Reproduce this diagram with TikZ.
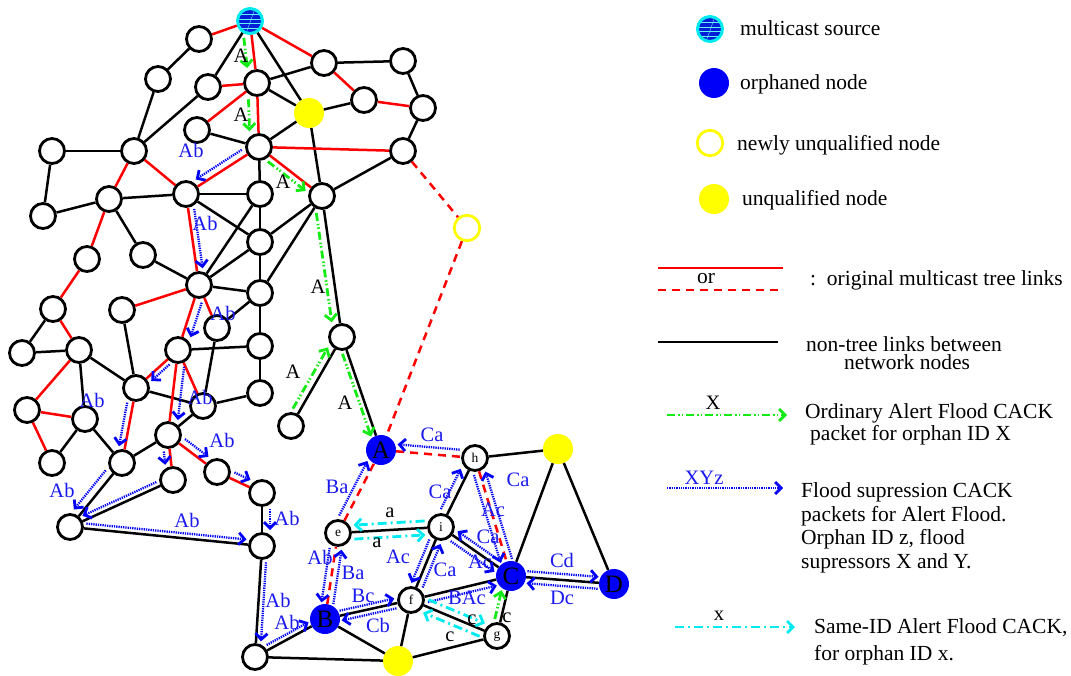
\documentclass[tikz,border=0pt]{standalone}
\usepackage{fontspec}
\setmainfont{Liberation Serif}
\usetikzlibrary{arrows.meta,calc}

\definecolor{tred}{RGB}{255,0,0}
\definecolor{tgreen}{RGB}{20,235,20}
\definecolor{tblue}{RGB}{0,0,250}
\definecolor{tlblue}{RGB}{25,25,240}
\definecolor{srcblue}{RGB}{0,30,215}
\definecolor{tcyan}{RGB}{0,235,240}
\definecolor{tyellow}{RGB}{255,255,0}

% offset packet arrow between two named nodes: style, from, to, side offset (pt)
\newcommand\cackline[4]{%
  \draw[#1] ($($(#2)!16pt!(#3)$)!#4pt!90:(#3)$) -- ($($(#3)!16pt!(#2)$)!#4pt!-90:(#2)$);}

\begin{document}
\begin{tikzpicture}[x=1pt,y=-1pt,
  nd/.style={circle, draw=black, line width=2.8pt, fill=white, minimum size=25pt, inner sep=0pt,
    font=\fontsize{13.5}{14}\selectfont},
  orph/.style={circle, fill=tblue, minimum size=30pt, inner sep=0pt, font=\fontsize{25}{25}\selectfont},
  unq/.style={circle, fill=tyellow, minimum size=30pt, inner sep=0pt},
  newunq/.style={circle, draw=tyellow, line width=2.8pt, fill=white, minimum size=25.5pt, inner sep=0pt},
  src/.style={circle, draw=tcyan, line width=3pt, fill=srcblue, minimum size=25pt, inner sep=0pt,
    path picture={
      \foreach \s in {-7,-2.5,2,6.5}{\draw[tcyan!60!white, line width=0.4pt]
        ([yshift=\s pt]path picture bounding box.west) -- ([yshift=\s pt]path picture bounding box.east);}
      \draw[tcyan!60!white, line width=0.4pt] ([xshift=-4pt]path picture bounding box.south) -- ([xshift=5pt]path picture bounding box.north);}},
  link/.style={draw=black, line width=2.5pt},
  tree/.style={draw=tred, line width=2.5pt},
  treed/.style={draw=tred, line width=2.5pt, dash pattern=on 8pt off 6pt},
  ordflood/.style={draw=tgreen, line width=2.8pt,
    dash pattern=on 8pt off 3pt on 1.5pt off 2pt on 1.5pt off 3pt,
    -{Straight Barb[length=6pt,width=12pt,line width=2.8pt]}},
  suppr/.style={draw=tblue, line width=2.3pt, dash pattern=on 1.3pt off 1pt,
    -{Straight Barb[length=6pt,width=12pt,line width=2.8pt]}},
  sameid/.style={draw=tcyan, line width=2.8pt, dash pattern=on 9pt off 4pt on 2pt off 4pt,
    -{Straight Barb[length=6pt,width=12pt,line width=2.8pt]}},
  blab/.style={text=tlblue, inner sep=0pt, font=\fontsize{20.5}{21}\selectfont},
  klab/.style={text=black, inner sep=0pt, font=\fontsize{20.5}{21}\selectfont},
  legtxt/.style={text=black, inner sep=0pt, anchor=west, font=\fontsize{21.5}{24}\selectfont}
]
\useasboundingbox (0,0) rectangle (1071,675);

% ---------- network nodes ----------
\node[src] (S) at (250,21) {};
\foreach \n/\x/\y in {n1/199/39, n2/158/79, n3/208/87, n4/257/83, n5/324/63, n6/403/61,
  n7/364/100, n8/423/108, n9/197/130, n10/259/147, n11/403/151, n12/52/151, n13/134/151,
  n14/109/199, n15/186/194, n16/260/194, n17/322/196, n18/43/216, n19/260/242, n20/143/255,
  n21/87/259, n22/199/285, n23/260/293, n24/53/309, n25/122/310, n26/217/328, n27/342/337,
  n28/22/353, n29/79/350, n30/178/350, n31/260/346, n32/136/388, n33/203/406, n34/260/393,
  n35/27/410, n36/85/419, n37/291/426, n38/168/435, n39/52/463, n40/122/463, n41/173/480,
  n42/217/472, n43/262/493, n44/70/527, n45/262/546, n46/255/657}
  {\node[nd] (\n) at (\x,\y) {};}
\foreach \n/\x/\y in {e/338/533, f/411/600, g/497/636, h/475/458, i/441/527}
  {\node[nd] (\n) at (\x,\y) {\n};}
\foreach \n/\x/\y in {A/381/450, B/325/619, C/511/576, D/614/584}
  {\node[orph] (\n) at (\x,\y) {\n};}
\node[unq] (Y1) at (309,113) {};
\node[unq] (Y2) at (398,661) {};
\node[unq] (Y3) at (558,449) {};
\node[newunq] (NU) at (467,228) {};

% ---------- links ----------
\foreach \a/\b in {S/n3, S/Y1, Y1/n17, n1/n2, n2/n13, n3/n13, n4/n5, n4/Y1, n5/n6, n6/n8,
  n7/Y1, n9/n10, n10/Y1, n10/n16, n8/n11, n11/n17, n12/n13, n12/n18, n14/n18, n14/n15,
  n14/n20, n15/n16, n15/n19, n16/n19, n16/n22, n17/n19, n17/n23, n17/n27, n19/n22, n19/n23,
  n20/n22, n22/n23, n23/n26, n23/n31, n24/n28, n25/n32, n28/n29, n29/n32, n29/n36, n30/n31,
  n26/n33, n32/n33, n31/n34, n33/n34, n33/n38, n36/n39, n36/n40, n27/n37, n27/A, n38/n40,
  n40/n44, n41/n44, n43/n45, n44/n45, n45/n46, n46/B, n46/Y2, B/Y2, e/i, B/f, i/f, f/Y2,
  Y2/g, i/h, h/Y3, i/C, Y3/C, Y3/D, C/D, f/C, f/g, g/C}
  {\draw[link] (\a) -- (\b);}
\foreach \a/\b in {S/n1, S/n4, S/n5, n3/n4, n4/n9, n4/n10, n5/n7, n7/n8, n10/n11, n10/n15,
  n10/n17, n13/n14, n13/n15, n14/n21, n15/n22, n21/n24, n22/n25, n22/n30, n22/n26, n24/n29,
  n29/n35, n30/n32, n30/n33, n30/n38, n32/n40, n35/n36, n35/n39, n38/n42, n38/n41, n42/n43}
  {\draw[tree] (\a) -- (\b);}
\foreach \a/\b in {n11/NU, NU/A, B/e, e/A, A/h, h/C}
  {\draw[treed] (\a) -- (\b);}

% ---------- CACK packets ----------
\foreach \a/\b/\o in {S/n4/-8, n4/n10/-9, n10/n17/-6, n17/n27/-8, n37/n27/7, n27/A/-5, g/C/6}
  {\cackline{ordflood}{\a}{\b}{\o}}
\foreach \a/\b/\o in {n10/n15/-7, n15/n22/6, n22/n30/8, n30/n32/5, n30/n38/8, n32/n40/-6,
  n38/n42/7, n38/n41/-6, n40/n44/-8, n41/n44/-5, n42/n43/7, n43/n45/8, n44/n45/5, n45/n46/5,
  n46/B/5, e/B/-6, B/e/-6, e/A/7, h/A/-7, i/h/8, h/C/-6, C/h/-6, C/i/-6, i/C/-6, i/f/-6,
  f/i/-6, B/f/5, f/B/5, f/C/-6, C/D/6, D/C/6}
  {\cackline{suppr}{\a}{\b}{\o}}
\foreach \a/\b/\o in {i/e/-7, e/i/-7, f/g/7, g/f/7}
  {\cackline{sameid}{\a}{\b}{\o}}

% ---------- packet labels ----------
\foreach \t/\x/\y [count=\k] in {Ab/191/150, Ab/205/223, Ab/223/313, Ab/200/397, Ab/92/400,
  Ab/222/440, Ab/62/490, Ab/187/520, Ab/287/518, Ab/278/600, Ab/287/622, Ab/320/557,
  Ba/353/573, Ba/337/487, Ca/432/435, Ca/440/492, Ca/518/480, Ac/493/510, Ca/488/537,
  Ac/480/562, Ac/398/557, Ca/445/570, Bc/363/596, Cb/378/625, BAc/467/598, Cd/562/560,
  Dc/562/598}
  {\node[blab] (bl\k) at (\x,\y) {\t};}
\foreach \t/\x/\y [count=\k] in {A/241/56, A/241/115, A/283/182, A/318/287, A/293/372,
  A/345/403, c/507/618, a/390/513, a/377/543, c/472/620, c/450/637}
  {\node[klab] (kl\k) at (\x,\y) {\t};}

% ---------- legend ----------
\node[src] (legS) at (710,29) {};
\node[legtxt] (legSt) at (740,28) {multicast source};
\node[orph] (legO) at (714,83) {};
\node[legtxt] (legOt) at (740,84) {orphaned node};
\node[newunq] (legN) at (710,143) {};
\node[legtxt] (legNt) at (737,145) {newly unqualified node};
\node[unq] (legY) at (714,199) {};
\node[legtxt] (legYt) at (742,200) {unqualified node};

\coordinate (r1a) at (658,268); \coordinate (r1b) at (783,268);
\coordinate (r2a) at (658,290); \coordinate (r2b) at (783,290);
\draw[tree] (r1a) -- (r1b);
\draw[treed] (r2a) -- (r2b);
\node[klab, font=\fontsize{21.5}{24}\selectfont] (legor) at (706,279) {or};
\node[legtxt] (legRt) at (810,280) {:\ \ original multicast tree links};

\coordinate (k1a) at (658,342); \coordinate (k1b) at (778,342);
\draw[link] (k1a) -- (k1b);
\node[text=black, inner sep=0pt, align=center, font=\fontsize{21.5}{18}\selectfont] (legKt)
  at (904,353) {non-tree links between\\\hspace*{6pt}network nodes};

\coordinate (g1a) at (667,415); \coordinate (g1b) at (787,415);
\draw[ordflood] (g1a) -- (g1b);
\node[klab] (legX) at (713,403) {X};
\node[legtxt] (legGt1) at (805,413) {Ordinary Alert Flood CACK};
\node[legtxt] (legGt2) at (810,435) {packet for orphan ID X};

\coordinate (b1a) at (667,488); \coordinate (b1b) at (783,488);
\draw[suppr] (b1a) -- (b1b);
\node[blab] (legXYz) at (704,478) {XYz};
\node[legtxt] (legBt1) at (801,492) {Flood supression CACK};
\node[legtxt] (legBt2) at (801,516) {packets for Alert Flood.};
\node[legtxt] (legBt3) at (801,539) {Orphan ID z, flood};
\node[legtxt] (legBt4) at (801,563) {supressors X and Y.};

\coordinate (c1a) at (675,627); \coordinate (c1b) at (795,627);
\draw[sameid] (c1a) -- (c1b);
\node[klab] (legx) at (719,616) {x};
\node[legtxt] (legCt1) at (814,628) {Same-ID Alert Flood CACK,};
\node[legtxt] (legCt2) at (814,655) {for orphan ID x.};
\end{tikzpicture}
\end{document}
